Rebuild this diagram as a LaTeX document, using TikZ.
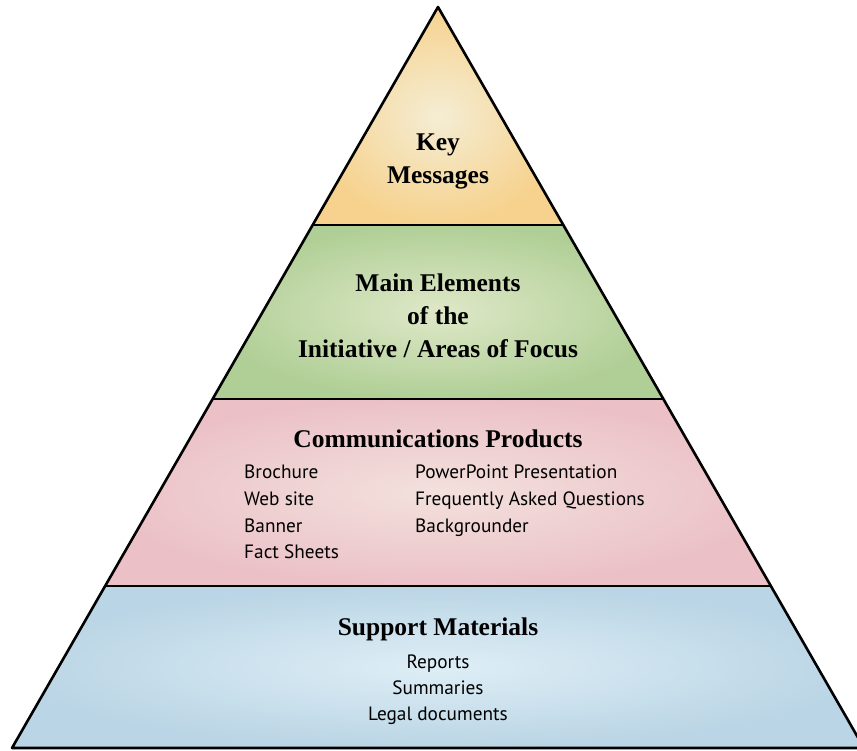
\documentclass[tikz,border=0pt]{standalone}
\usepackage{fontspec}
\setmainfont{Liberation Serif}
\newfontfamily\itemfont{PT Sans}
\begin{document}
\begin{tikzpicture}[x=1pt,y=-1pt,
  heading/.style={font=\fontsize{25.5}{34}\selectfont\bfseries, inner sep=0pt, anchor=base},
  itemtext/.style={font=\itemfont\fontsize{19.3}{27}\selectfont, inner sep=0pt, anchor=base west},
  itemc/.style={itemtext, anchor=base},
  edge/.style={line width=2.6pt, line join=round}]
\useasboundingbox (0,0) rectangle (857,750);
\definecolor{yOut}{HTML}{F6D28E}\definecolor{yIn}{HTML}{F5EDD4}
\definecolor{gOut}{HTML}{B0CF96}\definecolor{gIn}{HTML}{DFE8C8}
\definecolor{pOut}{HTML}{EBC1C7}\definecolor{pIn}{HTML}{F3E1DD}
\definecolor{bOut}{HTML}{BAD5E5}\definecolor{bIn}{HTML}{DEEEF6}
% corner points
\coordinate (apex) at (438,7);
\coordinate (bl) at (12,748);
\coordinate (br) at (864,748);
\path (apex) -- (bl) coordinate[pos=0.2942] (l1) coordinate[pos=0.529] (l2) coordinate[pos=0.7814] (l3);
\path (apex) -- (br) coordinate[pos=0.2942] (r1) coordinate[pos=0.529] (r2) coordinate[pos=0.7814] (r3);
\begin{scope}
\clip (0,0) rectangle (857,750);
\shade[inner color=yIn, outer color=yOut] (apex) -- (r1) -- (l1) -- cycle;
\shade[inner color=gIn, outer color=gOut] (l1) -- (r1) -- (r2) -- (l2) -- cycle;
\shade[inner color=pIn, outer color=pOut] (l2) -- (r2) -- (r3) -- (l3) -- cycle;
\shade[inner color=bIn, outer color=bOut] (l3) -- (r3) -- (br) -- (bl) -- cycle;
\draw[edge] (l1) -- (r1);
\draw[edge] (l2) -- (r2);
\draw[edge] (l3) -- (r3);
\draw[edge] (apex) -- (br) -- (bl) -- cycle;
\end{scope}
% headings
\node[heading] (key1) at (438,150) {Key};
\node[heading] (key2) at (438,183) {Messages};
\node[heading] (main1) at (438,291) {Main Elements};
\node[heading] (main2) at (438,324) {of the};
\node[heading] (main3) at (438,357) {Initiative / Areas of Focus};
\node[heading] (comm) at (438,447) {Communications Products};
\node[heading] (supp) at (438,635) {Support Materials};
% communications products items
\node[itemtext] (brochure) at (244,478) {Brochure};
\node[itemtext] (website) at (244,505) {Web site};
\node[itemtext] (banner) at (244,532) {Banner};
\node[itemtext] (fact) at (244,558) {Fact Sheets};
\node[itemtext] (ppt) at (415,478) {PowerPoint Presentation};
\node[itemtext] (faq) at (415,505) {Frequently Asked Questions};
\node[itemtext] (bg) at (415,532) {Backgrounder};
% support items
\node[itemc] (reports) at (438,668) {Reports};
\node[itemc] (summ) at (438,694) {Summaries};
\node[itemc] (legal) at (438,720) {Legal documents};
\end{tikzpicture}
\end{document}
